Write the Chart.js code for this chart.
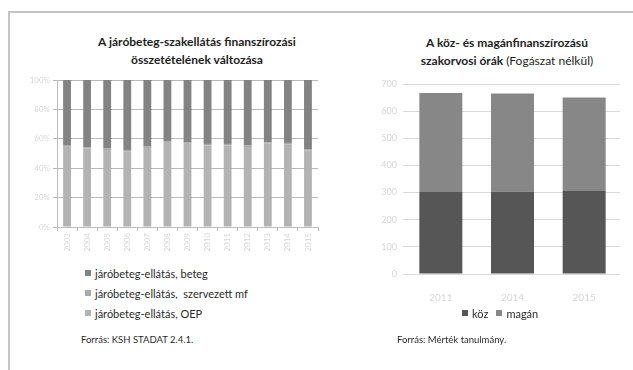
<!DOCTYPE html>
<html>
<head>
<meta charset="utf-8">
<script src="https://cdn.jsdelivr.net/npm/chart.js@4"></script>
<style>
  body { margin:0; width:633px; height:370px; background:#fff; position:relative; overflow:hidden;
         font-family: Lato, "Liberation Sans", sans-serif; color:#222; }
  .frame { position:absolute; left:8px; top:11px; width:640px; height:370px;
           border-top:2px solid #c4c4c4; border-left:2px solid #c4c4c4; }
  .title { position:absolute; text-align:center; font-size:12px; font-weight:bold; line-height:18px; color:#1e1e1e; }
  .title span.n { font-weight:normal; }
  .cv { position:absolute; }
  .legend { position:absolute; font-size:11px; color:#2a2a2a; }
  .legend .it { display:flex; align-items:center; height:20px; white-space:pre; }
  .legend .sw { width:6px; height:6px; margin-right:4px; display:inline-block; }
  .legend.row { display:flex; }
  .legend.row .it { margin-right:8px; }
  .src { position:absolute; font-size:9.5px; color:#2a2a2a; }
</style>
</head>
<body>
<div class="frame"></div>

<div class="title" style="left:57px; top:33px; width:280px;">A járóbeteg-szakellátás finanszírozási<br>összetételének változása</div>
<div class="title" style="left:367px; top:34px; width:280px;">A köz- és magánfinanszírozású<br>szakorvosi órák <span class="n">(Fogászat nélkül)</span></div>

<canvas id="left" class="cv" style="left:10px; top:70px;" width="312" height="190"></canvas>
<canvas id="right" class="cv" style="left:340px; top:70px;" width="285" height="240"></canvas>

<div class="legend" id="legLeft" style="left:85px; top:263px;"></div>
<div class="legend row" id="legRight" style="left:462px; top:303px;"></div>

<div class="src" style="left:81px; top:334px;">Forrás: KSH STADAT 2.4.1.</div>
<div class="src" style="left:397px; top:334px;">Forrás: Mérték tanulmány.</div>

<script>
// Outpatient specialist care financing structure, share of total (%)
const years = ['2003','2004','2005','2006','2007','2008','2009','2010','2011','2012','2013','2014','2015'];
const oep       = [55.0, 53.4, 52.4, 51.3, 53.7, 57.1, 56.6, 55.4, 55.5, 54.4, 56.7, 56.3, 52.1];
const szervMf   = [ 0.8,  0.9,  1.0,  1.1,  1.0,  1.2,  1.2,  1.1,  1.0,  1.0,  0.9,  0.9,  0.9];
const beteg     = [44.2, 45.7, 46.6, 47.6, 45.3, 41.7, 42.2, 43.5, 43.5, 44.6, 42.4, 42.8, 47.0];
const pctTicks  = [0, 20, 40, 60, 80, 100];

// Specialist hours, public vs. private financing
const hourYears = ['2011', '2014', '2015'];
const koz       = [302, 304, 306];
const magan     = [365, 361, 344];

const C_BETEG = '#838383', C_MF = '#a9a9a9', C_OEP = '#b3b3b3';
const C_KOZ = '#565656', C_MAGAN = '#878787';

Chart.defaults.font.family = 'Lato, "Liberation Sans", sans-serif';
Chart.defaults.animation = false;

new Chart(document.getElementById('left'), {
  type: 'bar',
  data: {
    labels: years,
    datasets: [
      { label: 'járóbeteg-ellátás, OEP', data: oep, backgroundColor: C_OEP },
      { label: 'járóbeteg-ellátás,  szervezett mf', data: szervMf, backgroundColor: C_MF },
      { label: 'járóbeteg-ellátás, beteg', data: beteg, backgroundColor: C_BETEG }
    ]
  },
  options: {
    responsive: false,
    layout: { padding: { left: 0, top: 10, right: 4, bottom: 0 } },
    plugins: { legend: { display: false }, tooltip: { enabled: false }, title: { display: false } },
    datasets: { bar: { categoryPercentage: 1, barPercentage: 0.39 } },
    scales: {
      x: {
        stacked: true,
        grid: { drawOnChartArea: false, drawTicks: true, tickLength: 4, color: '#bdbdbd' },
        border: { color: '#bdbdbd' },
        ticks: { autoSkip: false, minRotation: 90, maxRotation: 90, color: '#d6d6d6', font: { size: 8 }, padding: 2 },
        afterFit: s => { s.height = 33; }
      },
      y: {
        stacked: true, min: 0, max: 100,
        afterBuildTicks: s => { s.ticks = pctTicks.map(v => ({ value: v })); },
        grid: { color: '#b9b9b9', tickLength: 4 },
        border: { color: '#bdbdbd' },
        ticks: { color: '#d6d6d6', font: { size: 8 }, padding: 3, callback: v => v + '%' },
        afterFit: s => { s.width = 47; }
      }
    }
  }
});

new Chart(document.getElementById('right'), {
  type: 'bar',
  data: {
    labels: hourYears,
    datasets: [
      { label: 'köz', data: koz, backgroundColor: C_KOZ },
      { label: 'magán', data: magan, backgroundColor: C_MAGAN }
    ]
  },
  options: {
    responsive: false,
    layout: { padding: { left: 0, top: 14, right: 5, bottom: 0 } },
    plugins: { legend: { display: false }, tooltip: { enabled: false } },
    datasets: { bar: { categoryPercentage: 1, barPercentage: 0.6 } },
    scales: {
      x: {
        stacked: true,
        grid: { display: false },
        border: { display: false },
        ticks: { color: '#d6d6d6', font: { size: 10 }, padding: 10 },
        afterFit: s => { s.height = 36; }
      },
      y: {
        stacked: true, min: 0, max: 700,
        ticks: { stepSize: 100, color: '#d6d6d6', font: { size: 9 }, padding: 6 },
        grid: { color: '#dadada', tickLength: 2 },
        border: { display: false },
        afterFit: s => { s.width = 65; }
      }
    }
  }
});

// Legends
function legendItem(color, text) {
  const it = document.createElement('div');
  it.className = 'it';
  const sw = document.createElement('span');
  sw.className = 'sw';
  sw.style.background = color;
  it.appendChild(sw);
  it.appendChild(document.createTextNode(text));
  return it;
}
const legLeft = document.getElementById('legLeft');
[[C_BETEG, 'járóbeteg-ellátás, beteg'],
 [C_MF, 'járóbeteg-ellátás,  szervezett mf'],
 [C_OEP, 'járóbeteg-ellátás, OEP']].forEach(([c, t]) => legLeft.appendChild(legendItem(c, t)));
const legRight = document.getElementById('legRight');
[[C_KOZ, 'köz'], [C_MAGAN, 'magán']].forEach(([c, t]) => legRight.appendChild(legendItem(c, t)));
</script>
</body>
</html>
